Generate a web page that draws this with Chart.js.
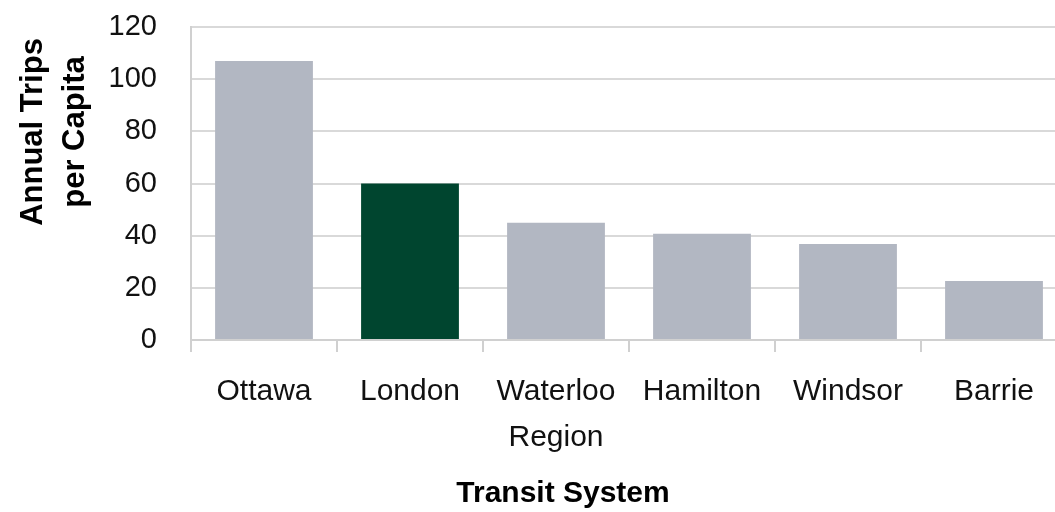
<!DOCTYPE html>
<html>
<head>
<meta charset="utf-8">
<script src="https://cdn.jsdelivr.net/npm/chart.js@4"></script>
<style>
  html, body { margin: 0; padding: 0; background: #fff; overflow: hidden; }
  #wrap { position: absolute; left: 0; top: 0; }
</style>
</head>
<body>
<div id="wrap"><canvas id="myChart" width="1070" height="512"></canvas></div>
<script>
// transit systems and annual trips per capita
var systems = ['Ottawa', 'London', ['Waterloo', 'Region'], 'Hamilton', 'Windsor', 'Barrie'];
var tripsPerCapita = [107, 60, 45, 40.7, 36.8, 22.6];
var highlight = 'London';
var yTicks = [0, 20, 40, 60, 80, 100, 120];

var barColors = systems.map(function (s) {
    return s === highlight ? '#00452f' : '#b2b7c2';
});

// axis titles are placed by hand, the reference does not center them on the axes
var titlesPlugin = {
    id: 'titles',
    afterDraw: function (chart) {
        var c = chart.ctx;
        c.save();
        c.fillStyle = '#000';
        c.textAlign = 'center';
        c.textBaseline = 'middle';
        c.font = 'bold 30px "Liberation Sans", Arial, sans-serif';
        c.fillText('Transit System', 563, 494);
        c.font = 'bold 31px "Liberation Sans", Arial, sans-serif';
        c.translate(33, 132);
        c.rotate(-Math.PI / 2);
        c.fillText('Annual Trips', 0, 0);
        c.fillText('per Capita', 0, 42);
        c.restore();
    }
};

var ctx = document.getElementById('myChart').getContext('2d');
var myChart = new Chart(ctx, {
    type: 'bar',
    data: {
        labels: systems,
        datasets: [{
            label: 'Annual Trips per Capita',
            data: tripsPerCapita,
            backgroundColor: barColors,
            borderWidth: 0,
            barPercentage: 0.67,
            categoryPercentage: 1.0
        }]
    },
    options: {
        responsive: false,
        animation: false,
        layout: {
            padding: { left: 0, right: 3, top: 27, bottom: 0 }
        },
        plugins: {
            legend: { display: false },
            tooltip: { enabled: false }
        },
        scales: {
            x: {
                grid: {
                    display: true,
                    drawOnChartArea: false,
                    drawTicks: true,
                    tickLength: 12,
                    color: '#d0d0d0',
                    lineWidth: 2
                },
                border: { color: '#d0d0d0', width: 2 },
                ticks: {
                    color: '#111',
                    padding: 16,
                    maxRotation: 0,
                    autoSkip: false,
                    font: { family: '"Liberation Sans", Arial, sans-serif', size: 30, lineHeight: 1.56 }
                },
                afterFit: function (scale) { scale.height = 172; }
            },
            y: {
                min: 0,
                max: 120,
                afterBuildTicks: function (scale) {
                    scale.ticks = yTicks.map(function (v) { return { value: v }; });
                },
                grid: {
                    color: '#d9d9d9',
                    lineWidth: 2,
                    drawTicks: false
                },
                border: { color: '#d0d0d0', width: 2 },
                ticks: {
                    color: '#111',
                    padding: 34,
                    font: { family: '"Liberation Sans", Arial, sans-serif', size: 29 }
                },
                afterFit: function (scale) {
                    scale.width = 191;
                    // tick padding would otherwise push the plot down
                    scale.paddingTop = 0;
                    scale.paddingBottom = 0;
                }
            }
        }
    },
    plugins: [titlesPlugin]
});
</script>
</body>
</html>
